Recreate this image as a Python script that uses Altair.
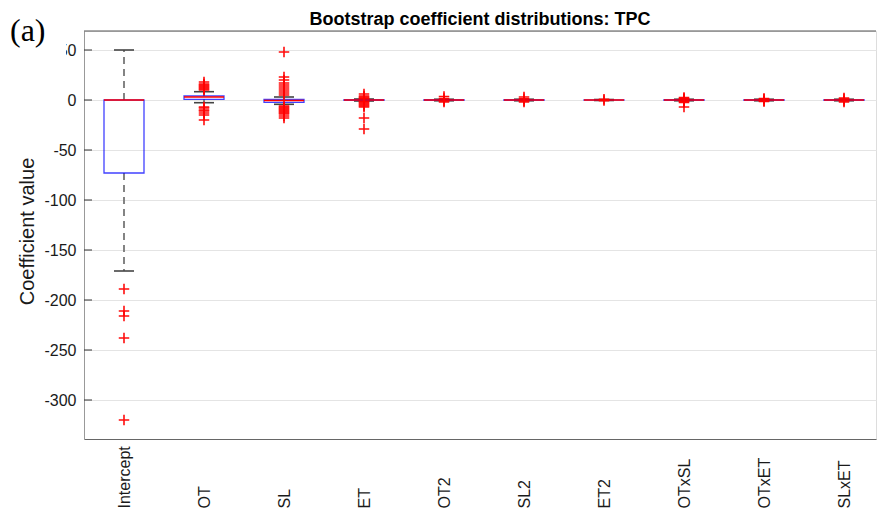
import altair as alt
import pandas as pd

# ---- data ----
categories = ["Intercept", "OT", "SL", "ET", "OT2", "SL2", "ET2", "OTxSL", "OTxET", "SLxET"]
q1 = [-73, 0.7, -2.3, -0.4, -0.3, -0.3, -0.2, -0.3, -0.3, -0.3]
medians = [0, 3, -0.5, 0, 0, 0, 0, 0, 0, 0]
q3 = [0, 4, 0.7, 0.4, 0.3, 0.3, 0.2, 0.3, 0.3, 0.3]
whisker_lo = [-171, -2.7, -4.3, -1, -0.8, -0.8, -0.5, -0.8, -0.8, -0.8]
whisker_hi = [50, 8.3, 3, 1, 0.8, 0.8, 0.5, 0.8, 0.8, 0.8]

out_intercept = [-189, -211, -216, -238, -320]
out_ot = [18, 16, 15, 14, 13, 12, 11, 10, -7, -8, -10, -11, -13, -15, -20]
out_sl = [48, 23, 20, 17, 15, 13, 11, 9, 7, 5, -6, -7, -8, -9, -10, -11, -12, -13, -14, -16, -18]
out_et = [6, 4, 3, 2, 1.5, -1.5, -2, -3, -4, -5, -6, -7, -18, -29]
out_ot2 = [3.5, 1.5, -1, -2]
out_sl2 = [3, 1.2, -1, -2]
out_et2 = [0.8, -0.6]
out_otxsl = [2.5, 1.5, 1, -1, -1.5, -2.5, -7]
out_otxet = [1.5, 1, -1, -1.5]
out_slxet = [2, 1, -1, -2]
outliers = [out_intercept, out_ot, out_sl, out_et, out_ot2, out_sl2,
            out_et2, out_otxsl, out_otxet, out_slxet]

y_ticks = [50, 0, -50, -100, -150, -200, -250, -300]
title_text = "Bootstrap coefficient distributions: TPC"
panel_text = "(a)"

# ---- tables ----
positions = list(range(1, len(categories) + 1))
box_df = pd.DataFrame({"cat": categories, "pos": positions, "q1": q1, "med": medians,
                       "q3": q3, "lo": whisker_lo, "hi": whisker_hi})
whisk_df = pd.concat([
    pd.DataFrame({"pos": positions, "a": q3, "b": whisker_hi}),
    pd.DataFrame({"pos": positions, "a": q1, "b": whisker_lo}),
])
cap_df = pd.concat([
    pd.DataFrame({"pos": positions, "v": whisker_hi}),
    pd.DataFrame({"pos": positions, "v": whisker_lo}),
])
out_df = pd.DataFrame([{"pos": p, "v": v} for p, vals in zip(positions, outliers) for v in vals])
tick_df = pd.DataFrame({"v": y_ticks})
one = pd.DataFrame({"k": [0]})

W, H = 792, 408
FONT = "Liberation Sans"

xscale = alt.Scale(domain=[0.5, 10.4], nice=False, zero=False)
yscale = alt.Scale(domain=[-339, 69], nice=False, zero=False)

label_array = "[" + ",".join("'" + c + "'" for c in categories) + "]"
xaxis = alt.Axis(values=positions, labelExpr=label_array + "[datum.value - 1]",
                 labelAngle=270, labelAlign="left", labelBaseline="middle",
                 labelPadding=69, ticks=False, tickSize=0, grid=False,
                 domainColor="#666666", labelFont=FONT, labelFontSize=16,
                 labelColor="#1a1a1a", labelOverlap=False, title="")
yaxis = alt.Axis(values=y_ticks, labelExpr="'' + datum.value", grid=True,
                 gridColor="#e4e4e4", domainColor="#999999",
                 ticks=False, tickSize=0, labelPadding=8, labelFont=FONT,
                 labelFontSize=16, labelColor="#1a1a1a", title="Coefficient value",
                 titleFont=FONT, titleFontSize=20, titleFontWeight="normal",
                 titleColor="#1a1a1a", titleAngle=270, titleX=-51, titleY=200,
                 titleAlign="center", titleBaseline="alphabetic")


def X(field):
    return alt.X(field, type="quantitative", scale=xscale, axis=xaxis)


def Y(field):
    return alt.Y(field, type="quantitative", scale=yscale, axis=yaxis)


ticks_in = alt.Chart(tick_df).mark_rule(color="#333333", strokeWidth=1).encode(
    x=alt.value(0), x2=alt.value(8), y=Y("v"))

whiskers = alt.Chart(whisk_df).mark_rule(color="#777777", strokeWidth=1.8,
                                         strokeDash=[7, 5]).encode(
    x=X("pos"), y=Y("a"), y2="b")

caps = alt.Chart(cap_df).transform_calculate(
    l="datum.pos - 0.125", r="datum.pos + 0.125").mark_rule(
    color="#444444", strokeWidth=1.6).encode(x=X("l"), x2="r", y=Y("v"))

boxes = alt.Chart(box_df).transform_calculate(
    l="datum.pos - 0.25", r="datum.pos + 0.25").mark_rect(
    fillOpacity=0, stroke="#0000ff", strokeWidth=1.3, strokeOpacity=0.75).encode(
    x=X("l"), x2="r", y=Y("q1"), y2="q3")

meds = alt.Chart(box_df).transform_calculate(
    l="datum.pos - 0.25", r="datum.pos + 0.25").mark_rule(
    color="#ff0000", strokeWidth=1.5).encode(x=X("l"), x2="r", y=Y("med"))

points = alt.Chart(out_df).mark_point(
    shape="M-1,0L1,0M0,-1L0,1", size=110, filled=False, color="#ff0000",
    strokeWidth=1.6, opacity=0.95).encode(x=X("pos"), y=Y("v"))

top_border = alt.Chart(one).mark_rule(color="#555555", strokeWidth=1).encode(
    x=alt.value(0), x2=alt.value(W), y=alt.value(0))

label_bg = alt.Chart(one).mark_rect(color="white").encode(
    x=alt.value(-84), x2=alt.value(-18), y=alt.value(-31), y2=alt.value(28))

panel_label = alt.Chart(one).mark_text(
    text=panel_text, font="Liberation Serif", fontSize=32, align="left",
    baseline="alphabetic", color="#000000").encode(x=alt.value(-74), y=alt.value(10))

chart_title = alt.Chart(one).mark_text(
    text=title_text, font=FONT, fontSize=18, fontWeight="bold", align="center",
    baseline="alphabetic", color="#000000").encode(x=alt.value(W / 2), y=alt.value(-6.5))

chart = alt.layer(
    ticks_in, whiskers, caps, boxes, meds, points, top_border, label_bg,
    panel_label, chart_title
).properties(
    width=W, height=H,
    autosize=alt.AutoSizeParams(type="none"),
    padding={"left": 84, "top": 31, "right": 1, "bottom": 74},
).configure_view(stroke="transparent").configure(background="white")

chart.save("out.html", embed_options={"renderer": "svg", "actions": False})
